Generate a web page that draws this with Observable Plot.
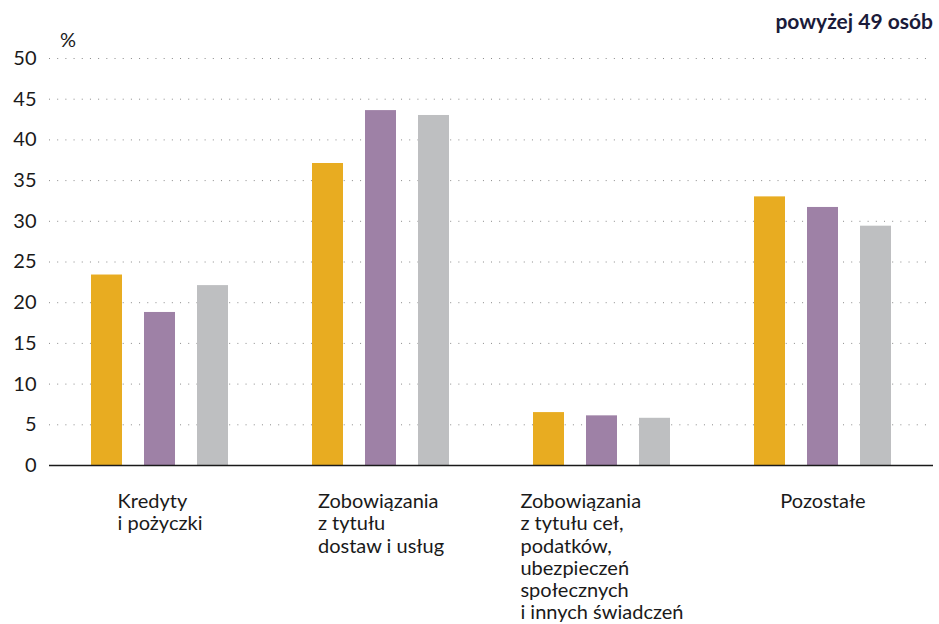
<!DOCTYPE html>
<html><head><meta charset="utf-8">
<script src="https://cdn.jsdelivr.net/npm/d3@7"></script>
<script src="https://cdn.jsdelivr.net/npm/@observablehq/plot@0.6"></script>
<style>
body{margin:0;background:#fff;font-family:Lato,sans-serif;}
#wrap{position:relative;width:939px;height:624px;}
#title{position:absolute;right:6px;top:8px;font-weight:700;font-size:21px;color:#1b1b3a;font-family:Lato,sans-serif;}
#unit{position:absolute;left:60px;top:29px;font-size:20px;line-height:20px;color:#1a1a1a;font-family:Lato,sans-serif;}
</style></head><body>
<div id="wrap"><div id="chart"></div><div id="unit">%</div><div id="title">powyżej 49 osób</div></div>
<script>
const categories = [
  "Kredyty\ni pożyczki",
  "Zobowiązania\nz tytułu\ndostaw i usług",
  "Zobowiązania\nz tytułu ceł,\npodatków,\nubezpieczeń\nspołecznych\ni innych świadczeń",
  "Pozostałe"
];
const series = ["seria 1", "seria 2", "seria 3"];
const seria1 = [23.4, 37.1, 6.5, 33.0];
const seria2 = [18.8, 43.6, 6.1, 31.7];
const seria3 = [22.1, 43.0, 5.8, 29.4];
const yTicks = [0, 5, 10, 15, 20, 25, 30, 35, 40, 45, 50];
const colors = ["#E8AC21", "#9E81A6", "#BEBFC1"];

const seriesValues = [seria1, seria2, seria3];
const data = categories.flatMap((c, i) => series.map((s, j) => ({category: c, series: s, value: seriesValues[j][i]})));

const chart = Plot.plot({
  width: 939, height: 624,
  marginLeft: 48, marginRight: 6, marginTop: 58, marginBottom: 159,
  style: {fontFamily: "Lato, sans-serif", fontSize: "20px", color: "#1a1a1a", background: "white"},
  fx: {domain: categories, padding: 0, label: null},
  x: {domain: series, paddingInner: 0.42, paddingOuter: 0.78, axis: null},
  y: {domain: [0, 50], ticks: yTicks, label: null},
  color: {domain: series, range: colors},
  marks: [
    Plot.ruleY(yTicks.filter(d => d > 0), {stroke: "#8a8a8a", strokeDasharray: "1 7.19"}),
    Plot.barY(data, {fx: "category", x: "series", y: "value", fill: "series"}),
    Plot.ruleY([0], {stroke: "#1a1a1a", strokeWidth: 1.6}),
    Plot.axisY({ticks: yTicks, tickSize: 0, tickPadding: 13, fontSize: 20, label: null}),
    Plot.axisFx({anchor: "bottom", tickSize: 0, tickPadding: 27, textAnchor: "start", lineHeight: 1.11, fontSize: 20, label: null})
  ]
});
document.getElementById("chart").appendChild(chart);
chart.querySelectorAll('g[aria-label="fx-axis tick label"] text').forEach(t => {
  const w = t.getBBox().width;
  const tr = t.getAttribute("transform") || "";
  t.setAttribute("transform", tr + ` translate(${-w / 2},0)`);
});
</script>
</body></html>
